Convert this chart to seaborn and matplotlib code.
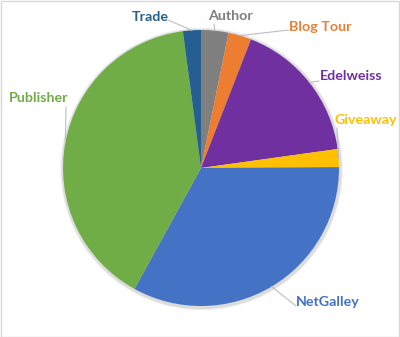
import numpy as np
import matplotlib
matplotlib.use("Agg")
import matplotlib.pyplot as plt
import seaborn as sns

# ---- data ----
sources = ["Author", "Blog Tour", "Edelweiss", "Giveaway", "NetGalley", "Publisher", "Trade"]
shares = [3.2, 2.7, 16.9, 2.1, 33.1, 39.9, 2.1]
colors = ["#7F7F7F", "#ED7D31", "#7030A0", "#FFC000", "#4472C4", "#70AD47", "#255E91"]
label_colors = ["#7F7F7F", "#ED7D31", "#7030A0", "#FFC000", "#4472C4", "#70AD47", "#255E91"]

sns.set_theme(style="white")
plt.rcParams["font.family"] = ["Lato", "DejaVu Sans"]

W, H = 400, 337
fig = plt.figure(figsize=(W / 100, H / 100), dpi=100)
ax = fig.add_axes([0, 0, 1, 1])
ax.set_xlim(0, W)
ax.set_ylim(0, H)
ax.axis("off")

cx, cy, R = 201, H - 168, 138

# subtle shadow
for dr, c in [(2.4, "#ededed"), (1.4, "#dcdcdc")]:
    ax.add_patch(plt.Circle((cx + 0.6, cy - 1.0), R + dr, color=c, zorder=0))

wedges, _ = ax.pie(shares, colors=colors, startangle=90, counterclock=False,
                   center=(cx, cy), radius=R, frame=True,
                   wedgeprops=dict(linewidth=0, edgecolor="none"))
ax.set_xlim(0, W)
ax.set_ylim(0, H)
ax.set_aspect("equal")
ax.axis("off")

# label text positions (image pixel coords) and leader anchor
label_pos = {
    "Author": (230, 16, (214, 24)),
    "Blog Tour": (320, 27, (289, 30)),
    "Edelweiss": (351, 76, (319, 81)),
    "Giveaway": (366, 120, (337, 128)),
    "NetGalley": (328, 302, (296, 306)),
    "Publisher": (39, 98, (66, 107)),
    "Trade": (150, 17, (168, 20)),
}

for w, name, lc in zip(wedges, sources, label_colors):
    tx, ty, (lx, ly) = label_pos[name]
    ax.text(tx, H - ty, name, color=lc, fontsize=10.3, fontweight="bold",
            ha="center", va="center", zorder=5)
    mid = np.deg2rad((w.theta1 + w.theta2) / 2)
    ex = cx + R * np.cos(mid)
    ey = cy + R * np.sin(mid)
    ax.plot([lx, ex], [H - ly, ey], color="#BFBFBF", lw=0.8, zorder=4)

# chart border
fig.patches.append(plt.Rectangle((0.5 / W, 0.5 / H), 1 - 1.5 / W, 1 - 1.5 / H,
                                 transform=fig.transFigure, fill=False,
                                 edgecolor="#D9D9D9", lw=1))

fig.savefig("out.png", dpi=100)
